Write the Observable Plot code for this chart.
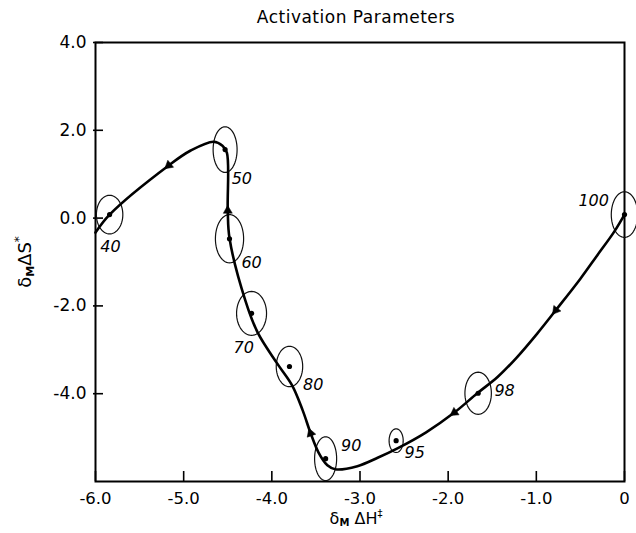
<!DOCTYPE html>
<html><head><meta charset="utf-8">
<script src="https://cdn.jsdelivr.net/npm/d3@7"></script>
<script src="https://cdn.jsdelivr.net/npm/@observablehq/plot@0.6"></script>
<style>body{margin:0;background:#fff} svg{display:block}</style>
</head><body><div id="chart"></div>
<script>
// measured points (δM ΔH‡, δM ΔS‡) with uncertainty half-widths
const labels = ["40","50","60","70","80","90","95","98","100"];
const dH   = [-5.84,-4.53,-4.48,-4.23,-3.80,-3.39,-2.59,-1.66,0.00];
const dS   = [ 0.08, 1.56,-0.47,-2.17,-3.38,-5.48,-5.07,-3.99,0.08];
const errH = [0.150,0.136,0.160,0.170,0.150,0.125,0.080,0.150,0.150];
const errS = [0.44, 0.52, 0.55, 0.50, 0.46, 0.50, 0.27, 0.48, 0.52];
// label anchor positions in data units
const labelH = [-5.83,-4.34,-4.23,-4.32,-3.53,-3.10,-2.38,-1.36,-0.35];
const labelS = [-0.65, 0.90,-1.01,-2.95,-3.79,-5.18,-5.34,-3.93, 0.40];
// traced smooth curve
const curveH = [-6.00,-5.84,-5.17,-4.92,-4.66,-4.56,-4.51,-4.50,-4.48,-4.30,-4.16,-3.94,-3.77,-3.65,-3.56,-3.47,-3.37,-3.28,-3.03,-2.80,-2.57,-2.25,-1.93,-1.67,-1.44,-1.22,-0.99,-0.78,-0.50,-0.31,-0.12,0.00];
const curveS = [-0.33, 0.08, 1.20, 1.54, 1.74, 1.65, 1.49, 0.17,-0.46,-1.88,-2.61,-3.31,-3.81,-4.38,-4.90,-5.34,-5.63,-5.72,-5.65,-5.46,-5.24,-4.88,-4.43,-3.99,-3.62,-3.17,-2.63,-2.10,-1.38,-0.85,-0.32,0.08];
// direction arrows: position and the point they head toward
const arrowH   = [-5.17,-4.50,-3.56,-1.93,-0.78];
const arrowS   = [ 1.20, 0.17,-4.90,-4.43,-2.10];
const arrowToH = [-5.84,-4.51,-3.65,-2.25,-0.99];
const arrowToS = [ 0.08, 1.49,-4.38,-4.88,-2.63];
// axes
const xTicks = [-6,-5,-4,-3,-2,-1,0];
const xTickLabels = ["-6.0","-5.0","-4.0","-3.0","-2.0","-1.0","0"];
const yTicks = [-4,-2,0,2,4];
const yTickLabels = ["-4.0","-2.0","0.0","2.0","4.0"];

const pts = labels.map((l,i)=>({l, h:dH[i], s:dS[i], eh:errH[i], es:errS[i], lh:labelH[i], ls:labelS[i]}));
const curve = curveH.map((h,i)=>({h, s:curveS[i]}));
const arrows = arrowH.map((h,i)=>({h, s:arrowS[i], th:arrowToH[i], ts:arrowToS[i]}));
const ell = [];
pts.forEach(p=>{ for(let k=0;k<=60;k++){ const t=2*Math.PI*k/60; ell.push({l:p.l, h:p.h+p.eh*Math.cos(t), s:p.s+p.es*Math.sin(t)}); } });

const font = "DejaVu Sans, sans-serif";
const W = 636, H = 533, mL = 95, mR = 12, mT = 42, mB = 52;
const frameW = W - mL - mR, frameH = H - mT - mB;
function build(rot){
  return Plot.plot({
    width:W, height:H,
    marginLeft:mL, marginRight:mR, marginTop:mT, marginBottom:mB,
    style:{fontFamily:font, background:"#fff"},
    x:{domain:[-6,0]},
    y:{domain:[-6,4]},
    marks:[
      Plot.axisX(xTicks,{anchor:"bottom", tickSize:0, tickPadding:11, fontSize:16.5, letterSpacing:1.5,
        tickFormat:d=>xTickLabels[xTicks.indexOf(d)], label:null}),
      Plot.axisY(yTicks,{anchor:"left", tickSize:0, tickPadding:9, fontSize:17, letterSpacing:1.5,
        tickFormat:d=>yTickLabels[yTicks.indexOf(d)], label:null}),
      // inward ticks
      Plot.tickX(xTicks,{x:d=>d, insetTop:frameH-10, stroke:"#000", strokeWidth:1.6}),
      Plot.tickY(yTicks,{y:d=>d, insetRight:frameW-8, insetLeft:-2, stroke:"#000", strokeWidth:1.6}),
      Plot.frame({strokeWidth:2}),
      Plot.line(ell,{x:"h", y:"s", z:"l", stroke:"#111", strokeWidth:1.2}),
      Plot.line(curve,{x:"h", y:"s", curve:"catmull-rom", stroke:"#000", strokeWidth:2.6}),
      Plot.dot(pts,{x:"h", y:"s", r:2.6, fill:"#000"}),
      Plot.text(pts,{x:"lh", y:"ls", text:"l", fontSize:16, fontStyle:"italic", fill:"#000"}),
      rot ? Plot.dot(arrows,{x:"h", y:"s", symbol:"triangle2", r:4.3, fill:"#000", stroke:"#000", strokeWidth:0.5, rotate:(d,i)=>rot[i]}) : null
    ]
  });
}
const first = build(null);
const sx = first.scale("x"), sy = first.scale("y");
const rot = arrows.map(a=>{
  const dx = sx.apply(a.th)-sx.apply(a.h), dy = sy.apply(a.ts)-sy.apply(a.s);
  return Math.atan2(dx,-dy)*180/Math.PI;
});
const chart = build(rot);
document.getElementById("chart").append(chart);
const svg = d3.select(chart);
svg.append("text").attr("x",356).attr("y",23).attr("text-anchor","middle")
  .attr("font-family",font).attr("font-size",17).attr("letter-spacing",0.5).text("Activation Parameters");
const xl = svg.append("text").attr("x",356).attr("y",524).attr("text-anchor","middle")
  .attr("font-family",font).attr("font-size",16);
xl.append("tspan").text("δ");
xl.append("tspan").attr("font-size",10).attr("dy",2).attr("font-weight","bold").text("M");
xl.append("tspan").attr("dy",-2).text(" ΔH");
xl.append("tspan").attr("font-size",10).attr("dy",-7).text("‡");
const yl = svg.append("text").attr("transform","translate(31,262) rotate(-90)").attr("text-anchor","middle")
  .attr("font-family",font).attr("font-size",18);
yl.append("tspan").text("δ");
yl.append("tspan").attr("font-size",11).attr("dy",3).attr("font-weight","bold").text("M");
yl.append("tspan").attr("dy",-3).text("ΔS");
yl.append("tspan").attr("font-size",12).attr("dy",-8).text("*");
</script></body></html>
